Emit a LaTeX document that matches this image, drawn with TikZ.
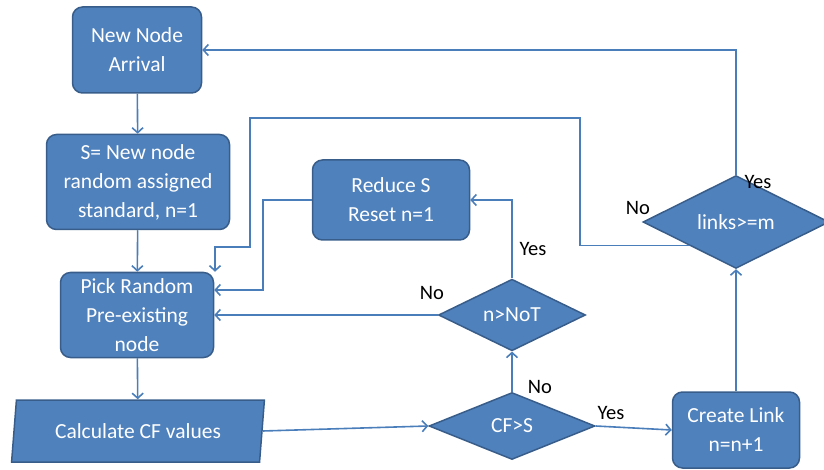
\documentclass[tikz,border=0pt]{standalone}
\usepackage{fontspec}
\setmainfont{Carlito}
\usepackage{tikz}
\usetikzlibrary{shapes.geometric, arrows.meta, positioning, calc}
\definecolor{flowblue}{RGB}{79, 129, 189}
\definecolor{flowedge}{RGB}{56, 93, 138}
\definecolor{flowline}{RGB}{74, 126, 187}

\begin{document}
\begin{tikzpicture}[
          x=1pt, y=-1pt,
          box/.style={rectangle, rounded corners=10pt, draw=flowedge, line width=1.5pt, fill=flowblue, text=white, align=center, font=\fontsize{21.5}{29}\selectfont, inner sep=2pt},
          test/.style={diamond, draw=flowedge, line width=1.5pt, fill=flowblue, text=white, font=\fontsize{21.5}{29}\selectfont, inner sep=0pt},
          io/.style={trapezium, trapezium left angle=81, trapezium right angle=99, trapezium stretches=true, draw=flowedge, line width=1.5pt, fill=flowblue, text=white, font=\fontsize{21.5}{29}\selectfont},
          flow/.style={draw=flowline, line width=1.6pt, -{Straight Barb[length=5pt, width=11pt]}},
          tag/.style={font=\fontsize{20.5}{22}\selectfont, text=black, inner sep=0pt}
        ]
          \useasboundingbox (0,0) rectangle (824,470);

          % Left column
          \node[box, minimum width=129pt, minimum height=86pt] (arrival) at (137,50) {New Node\\Arrival};
          \node[box, minimum width=183pt, minimum height=95pt] (assign) at (138,182) {S= New node\\random assigned\\standard, n=1};
          \node[box, minimum width=153pt, minimum height=85pt] (pick) at (137,315) {Pick Random\\Pre-existing\\node};
          \node[io, minimum width=253pt, minimum height=62pt] (calc) at (138,431) {Calculate CF values};

          % Middle and right
          \node[box, minimum width=157pt, minimum height=80pt] (reduce) at (391,200) {Reduce S\\Reset n=1};
          \node[test, minimum width=147pt, minimum height=70pt] (notest) at (512,315) {n>NoT};
          \node[test, minimum width=166pt, minimum height=67pt] (cfs) at (512,426) {CF>S};
          \node[box, minimum width=127pt, minimum height=76pt] (create) at (736,430) {Create Link\\n=n+1};
          \node[test, minimum width=186pt, minimum height=69pt] (linktest) at (736,222) {links>=m};

          % Bend points
          \coordinate (rp) at (263,290);
          \coordinate (c1) at (580,118);
          \coordinate (c2) at (250,247);
          \coordinate (c3) at (215,247);

          \draw[flow] (arrival) -- (assign);
          \draw[flow] (assign) -- (pick);
          \draw[flow] (pick) -- (calc);
          \draw[flow] (calc.east) -- (cfs.west);
          \draw[flow] (cfs.east) -- (create.west);
          \draw[flow] (cfs.north) -- (notest.south);
          \draw[flow] (notest.west) -- (notest.west -| pick.east);
          \draw[flow] (notest.north) |- (reduce.east);
          \draw[flow] (reduce.west) -| (rp) -- (rp -| pick.east);
          \draw[flow] (create.north) -- (linktest.south);
          \draw[flow] (linktest.north) |- (arrival.east);
          \draw[flow] (linktest.south west) -| (c1) -| (c2) -- (c3) -- (c3 |- pick.north east);

          % Branch labels
          \node[tag] (yes1) at (533,249) {Yes};
          \node[tag] (no1) at (432,293) {No};
          \node[tag] (no2) at (540,387) {No};
          \node[tag] (yes2) at (611,413) {Yes};
          \node[tag] (no3) at (638,208) {No};
          \node[tag] (yes3) at (758,182) {Yes};
        \end{tikzpicture}
\end{document}
